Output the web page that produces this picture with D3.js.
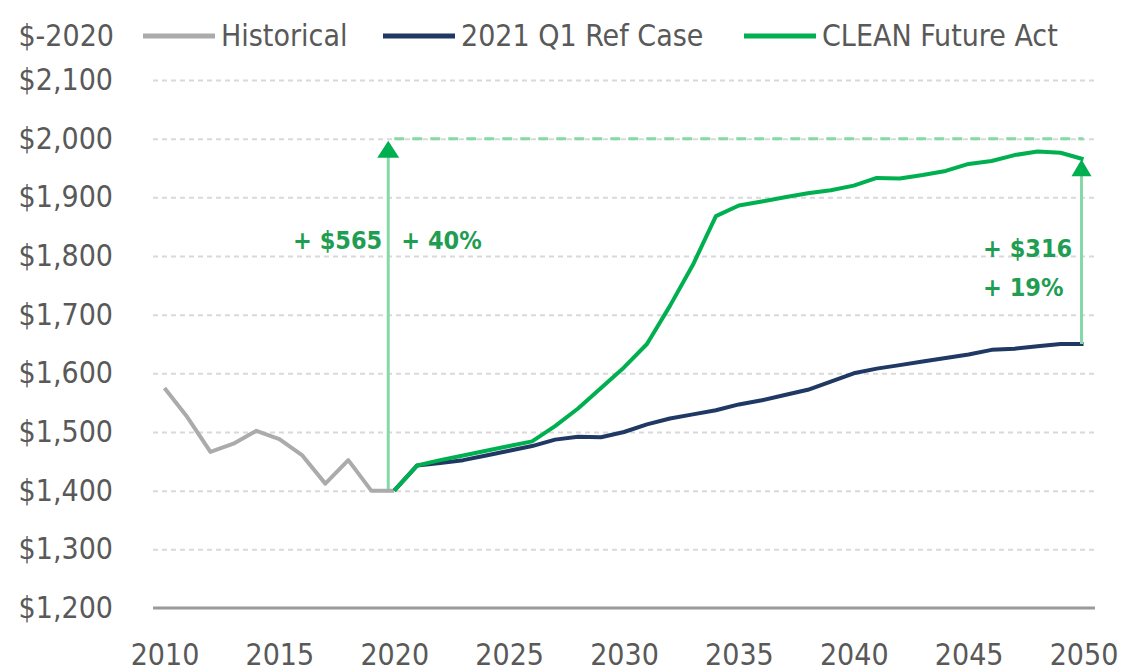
<!DOCTYPE html>
<html>
<head>
<meta charset="utf-8">
<script src="https://cdn.jsdelivr.net/npm/d3@7"></script>
<style>
  body { margin: 0; background: #fff; }
  text { font-family: "Liberation Sans Narrow", "DejaVu Sans Condensed", Lato, sans-serif; }
</style>
</head>
<body>
<svg id="chart" width="1122" height="671"></svg>
<script>
// data ($ 2020)
const histYears = d3.range(2010, 2021);
const historical = [1575, 1525, 1466, 1480, 1502, 1488, 1460, 1412, 1452, 1400, 1400];

const projYears = d3.range(2020, 2051);
const refCase = [1400, 1443, 1447, 1452, 1460, 1468, 1476, 1487, 1492, 1491,
                 1500, 1513, 1523, 1530, 1537, 1547, 1554, 1563, 1572, 1586,
                 1600, 1608, 1614, 1620, 1626, 1632, 1640, 1642, 1646, 1650, 1650];
const cleanFuture = [1400, 1443, 1452, 1460, 1468, 1476, 1484, 1510, 1540, 1575,
                     1610, 1650, 1715, 1785, 1868, 1886, 1893, 1900, 1907, 1912,
                     1920, 1933, 1932, 1938, 1945, 1957, 1962, 1972, 1978, 1976, 1965];

const yTicks = [1200, 1300, 1400, 1500, 1600, 1700, 1800, 1900, 2000, 2100];
const xTicks = [2010, 2015, 2020, 2025, 2030, 2035, 2040, 2045, 2050];
const seriesNames = ["Historical", "2021 Q1 Ref Case", "CLEAN Future Act"];
const seriesColors = ["#ababab", "#1f3864", "#00b050"];
const unitLabel = "$-2020";
const annoLeft = ["+ $565", "+ 40%"];
const annoRight = ["+ $316", "+ 19%"];

const svg = d3.select("#chart");
const plotLeft = 153, plotRight = 1095, plotTop = 80, plotBottom = 608;
const legendX = [143, 383, 744];

const x = d3.scaleLinear().domain([2009.5, 2050.5]).range([plotLeft, plotRight]);
const y = d3.scaleLinear().domain([1200, 2100]).range([plotBottom, plotTop]);

const labelColor = "#595959";
const fontSize = 30;

// gridlines + y labels
const yAxis = svg.append("g")
    .attr("transform", `translate(${plotLeft},0)`)
    .call(d3.axisLeft(y).tickValues(yTicks).tickSize(-(plotRight - plotLeft)).tickPadding(40).tickFormat(d3.format("$,")));
yAxis.select(".domain").remove();
yAxis.selectAll(".tick line")
    .attr("stroke", "#d9d9d9")
    .attr("stroke-width", 2)
    .attr("stroke-dasharray", "5,4")
    .filter(d => d === 1200).remove();
yAxis.selectAll(".tick text")
    .attr("fill", labelColor)
    .style("font-size", fontSize + "px");

// bottom axis line
svg.append("line")
    .attr("x1", plotLeft).attr("x2", plotRight)
    .attr("y1", y(1200)).attr("y2", y(1200))
    .attr("stroke", "#9a9a9a").attr("stroke-width", 3);

const xAxis = svg.append("g")
    .attr("transform", `translate(0,${plotBottom})`)
    .call(d3.axisBottom(x).tickValues(xTicks).tickSize(0).tickPadding(36).tickFormat(d3.format("d")));
xAxis.select(".domain").remove();
xAxis.selectAll(".tick text")
    .attr("fill", labelColor)
    .style("font-size", fontSize + "px");

// annotation: 2020 -> top
const green = "#00b050";
const lightGreen = "#86d9a6";
const ax1 = x(2020) - 6;
svg.append("line")
    .attr("x1", ax1 + 6).attr("x2", x(2050))
    .attr("y1", y(2000)).attr("y2", y(2000))
    .attr("stroke", lightGreen).attr("stroke-width", 3).attr("stroke-dasharray", "10,8");
svg.append("line")
    .attr("x1", ax1).attr("x2", ax1)
    .attr("y1", y(1400)).attr("y2", y(2000) + 16)
    .attr("stroke", lightGreen).attr("stroke-width", 3);
svg.append("path")
    .attr("d", `M${ax1},${y(2000) + 2} L${ax1 - 11},${y(2000) + 19} L${ax1 + 11},${y(2000) + 19} Z`)
    .attr("fill", green);

// lines
const line = d3.line().x(d => x(d[0])).y(d => y(d[1]));
const seriesData = [
    d3.zip(histYears, historical),
    d3.zip(projYears, refCase),
    d3.zip(projYears, cleanFuture)
];
svg.selectAll(".series")
    .data(seriesData)
    .enter()
    .append("path")
    .attr("class", "series")
    .attr("d", line)
    .attr("fill", "none")
    .attr("stroke", (d, i) => seriesColors[i])
    .attr("stroke-width", 4)
    .attr("stroke-linejoin", "round");

// annotation: 2050 gap
const ax2 = x(2050) - 2;
const gTop = y(cleanFuture[cleanFuture.length - 1]);
svg.append("line")
    .attr("x1", ax2).attr("x2", ax2)
    .attr("y1", y(refCase[refCase.length - 1])).attr("y2", gTop + 16)
    .attr("stroke", lightGreen).attr("stroke-width", 3);
svg.append("path")
    .attr("d", `M${ax2},${gTop} L${ax2 - 10},${gTop + 17} L${ax2 + 10},${gTop + 17} Z`)
    .attr("fill", green);

const annoStyle = sel => sel
    .attr("fill", "#1f9d52")
    .style("font-size", "25px")
    .style("font-weight", "bold");
svg.append("text").text(annoLeft[0])
    .attr("x", ax1 - 6).attr("y", 249).attr("text-anchor", "end").call(annoStyle);
svg.append("text").text(annoLeft[1])
    .attr("x", ax1 + 13).attr("y", 249).call(annoStyle);
svg.append("text").text(annoRight[0])
    .attr("x", 983).attr("y", 257).call(annoStyle);
svg.append("text").text(annoRight[1])
    .attr("x", 983).attr("y", 296).call(annoStyle);

// legend
svg.append("text").text(unitLabel)
    .attr("x", 114).attr("y", 46).attr("text-anchor", "end")
    .attr("fill", labelColor).style("font-size", fontSize + "px");
seriesNames.forEach(function(name, i) {
    svg.append("line")
        .attr("x1", legendX[i]).attr("x2", legendX[i] + 72)
        .attr("y1", 36).attr("y2", 36)
        .attr("stroke", seriesColors[i]).attr("stroke-width", 5);
    svg.append("text").text(name)
        .attr("x", legendX[i] + 78).attr("y", 46)
        .attr("fill", labelColor).style("font-size", fontSize + "px");
});
</script>
</body>
</html>
